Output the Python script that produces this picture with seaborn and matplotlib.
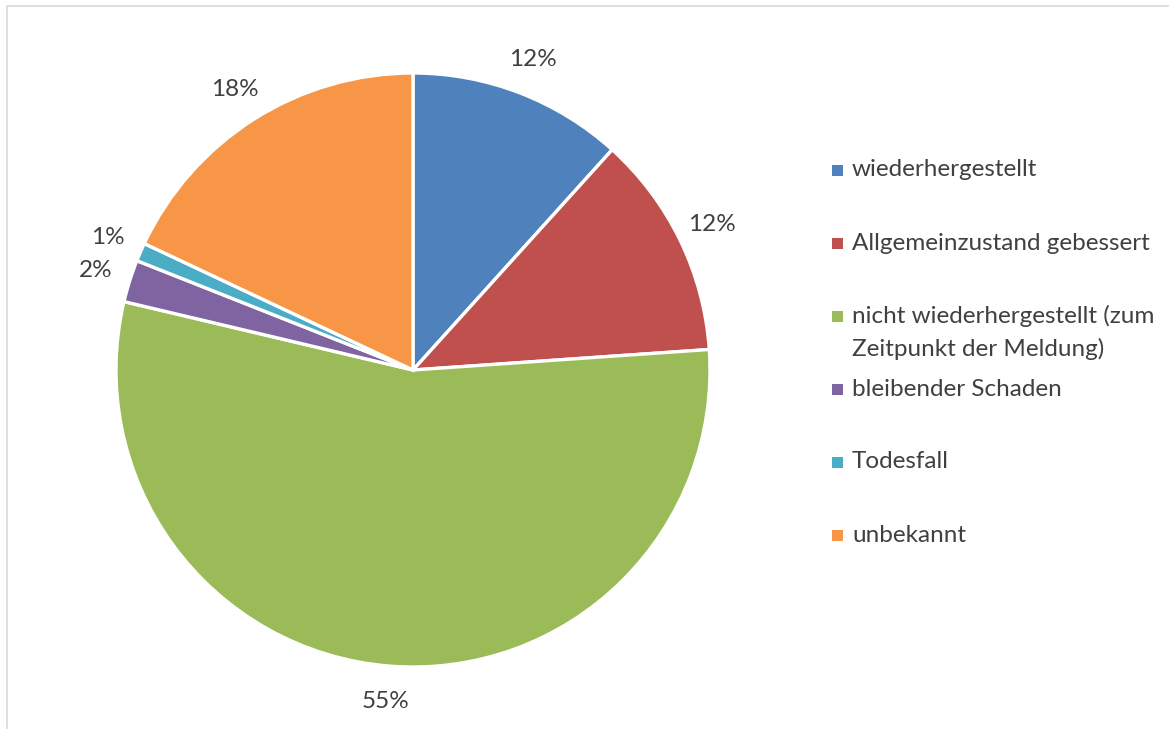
import matplotlib
matplotlib.use("Agg")
import matplotlib.pyplot as plt
import matplotlib.patches as mpatches
import seaborn as sns

# data (percent of reports)
labels = ["wiederhergestellt",
          "Allgemeinzustand gebessert",
          "nicht wiederhergestellt (zum\nZeitpunkt der Meldung)",
          "bleibender Schaden",
          "Todesfall",
          "unbekannt"]
shares = [11.7, 12.2, 54.8, 2.3, 1.0, 18.0]
colors = ["#4F81BD", "#C0504D", "#9BBB59", "#8064A2", "#4BACC6", "#F79646"]

sns.set_theme(style="white")
plt.rcParams["font.family"] = ["Lato", "DejaVu Sans"]
text_col = "#404040"
fs = 17.5

W, H = 1169, 729
fig = plt.figure(figsize=(W / 100, H / 100), dpi=100)

# pie centre (413, 370) px, radius 297 px
cx, cy, r = 413, 370, 297
half = 300
ax = fig.add_axes([(cx - half) / W, (H - cy - half) / H, 2 * half / W, 2 * half / H])

wedges, texts, autotexts = ax.pie(
    shares, colors=colors, startangle=90, counterclock=False,
    autopct="%.0f%%", pctdistance=1.12, radius=1,
    wedgeprops=dict(edgecolor="white", linewidth=2.4),
    textprops=dict(color=text_col, fontsize=fs))
ax.set_xlim(-half / r, half / r)
ax.set_ylim(-half / r, half / r)
ax.set_aspect("equal")
ax.axis("off")

# legend, one 73 px slot per entry, text top-aligned in the slot
lx, ly, step = 832, 170, 73
sq = 11
for i, (lab, col) in enumerate(zip(labels, colors)):
    y = ly + i * step
    fig.patches.append(mpatches.Rectangle(
        (lx / W, (H - y - sq / 2) / H), sq / W, sq / H,
        transform=fig.transFigure, facecolor=col, edgecolor="none"))
    for j, line in enumerate(lab.split("\n")):
        fig.text(852 / W, (H - y - j * 33) / H, line, color=text_col,
                 fontsize=fs, va="center", ha="left")

# light chart-area border
fig.patches.append(mpatches.Rectangle(
    (7 / W, -0.05), 1.1, (H - 6) / H + 0.05, transform=fig.transFigure,
    facecolor="none", edgecolor="#D9D9D9", linewidth=1.2))

fig.savefig("out.png", dpi=100)
